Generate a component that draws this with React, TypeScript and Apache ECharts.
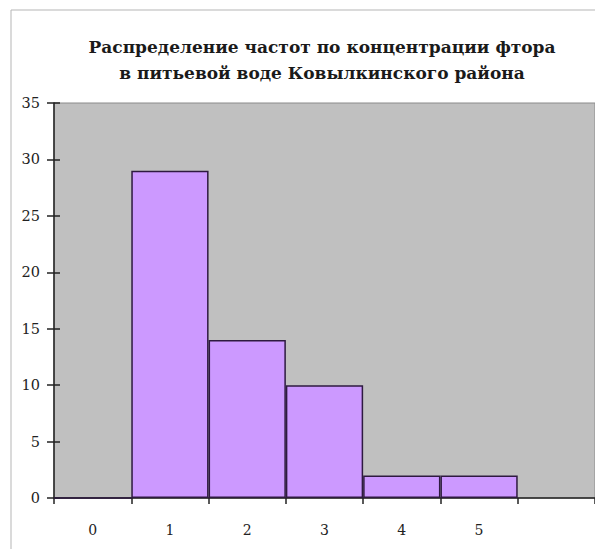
import React, { useEffect, useRef } from "react";
import * as echarts from "echarts";

const titleLines = ["Распределение частот по концентрации фтора", "в питьевой воде Ковылкинского района"];
const categories = ["0", "1", "2", "3", "4", "5", ""];
const frequencies = [0, 29, 14, 10, 2, 2, null];
const yTicks = { min: 0, max: 35, interval: 5 };

export default function App() {
  const ref = useRef<HTMLDivElement>(null);
  useEffect(() => {
    if (!ref.current) return;
    const chart = echarts.init(ref.current, null, { renderer: "svg" });
    const serif = "DejaVu Serif";
    chart.setOption({
      animation: false,
      backgroundColor: "#ffffff",
      title: {
        text: titleLines.join("\n"),
        left: 317,
        top: 29,
        textAlign: "center",
        textStyle: {
          fontFamily: serif,
          fontSize: 17,
          fontWeight: "bold",
          color: "#1a1a1a",
          lineHeight: 26,
        },
      },
      graphic: [
        {
          type: "rect",
          shape: { x: 11, y: 10, width: 620, height: 600 },
          style: { fill: "none", stroke: "#b5b5b5", lineWidth: 1 },
          z: 0,
        },
      ],
      grid: {
        left: 54,
        top: 103,
        width: 546,
        bottom: 51,
        show: true,
        backgroundColor: "#c0c0c0",
        borderColor: "#8a8a8a",
        borderWidth: 1,
      },
      xAxis: {
        type: "category",
        data: categories,
        boundaryGap: true,
        axisLine: { lineStyle: { color: "#222", width: 1.5 } },
        axisTick: { show: true, length: 6, lineStyle: { color: "#222", width: 1.5 } },
        axisLabel: { fontFamily: serif, fontSize: 14, color: "#222", margin: 25 },
        splitLine: { show: false },
      },
      yAxis: [
        {
          type: "value",
          min: yTicks.min,
          max: yTicks.max,
          interval: yTicks.interval,
          axisLine: { show: true, lineStyle: { color: "#222", width: 1.5 } },
          axisTick: { show: true, length: 7, lineStyle: { color: "#222", width: 1.5 } },
          axisLabel: { fontFamily: serif, fontSize: 14.5, color: "#222", margin: 14 },
          splitLine: { show: false },
        },
        {
          type: "value",
          position: "left",
          min: yTicks.min,
          max: yTicks.max,
          interval: yTicks.interval,
          axisLine: { show: false },
          axisTick: { show: true, inside: true, length: 6, lineStyle: { color: "#222", width: 1.5 } },
          axisLabel: { show: false },
          splitLine: { show: false },
        },
      ],
      series: [
        {
          type: "bar",
          data: frequencies,
          barCategoryGap: 0,
          barWidth: "100%",
          itemStyle: { color: "#cc99ff", borderColor: "#2e1a40", borderWidth: 1.5 },
        },
      ],
    });
    return () => chart.dispose();
  }, []);
  return (
    <div
      ref={ref}
      style={{ position: "fixed", left: 0, top: 0, width: 595, height: 549 }}
    />
  );
}
